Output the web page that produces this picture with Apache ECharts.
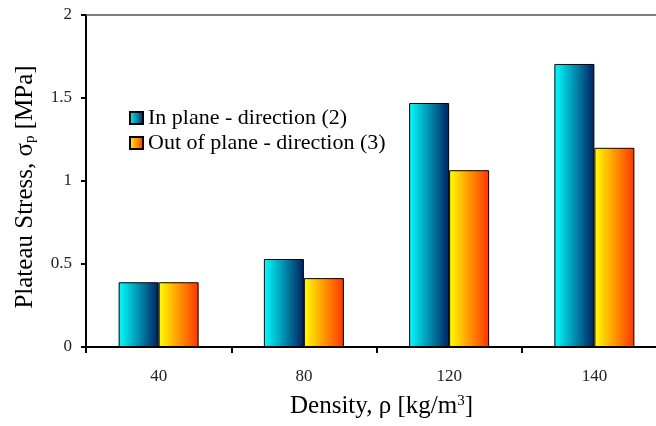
<!DOCTYPE html>
<html>
<head>
<meta charset="utf-8">
<script src="https://cdn.jsdelivr.net/npm/echarts@6/dist/echarts.min.js"></script>
<style>html,body{margin:0;padding:0;background:#fff;overflow:hidden}#c{width:656px;height:426px}</style>
</head>
<body>
<div id="c"></div>
<script>
const categories = ['40', '80', '120', '140'];
const inPlane = [0.39, 0.53, 1.47, 1.705];
const outOfPlane = [0.39, 0.415, 1.065, 1.2];
const yTicks = { min: 0, max: 2, interval: 0.5 };

const FONT = '"Liberation Serif", "Times New Roman", serif';
const chart = echarts.init(document.getElementById('c'));
function grad(a, b) {
  return new echarts.graphic.LinearGradient(0, 0, 1, 0, [
    { offset: 0, color: a }, { offset: 1, color: b }
  ]);
}
chart.setOption({
  animation: false,
  backgroundColor: '#fff',
  grid: { left: 86, width: 581, top: 15, bottom: 79, outerBoundsMode: 'none', containLabel: false },
  legend: {
    orient: 'vertical', left: 129, top: 107, padding: 0,
    itemWidth: 13, itemHeight: 12, itemGap: 3,
    icon: 'rect',
    textStyle: { fontFamily: FONT, fontSize: 22, color: '#000' },
    data: ['In plane - direction (2)', 'Out of plane - direction (3)']
  },
  xAxis: [{
    type: 'category', data: categories,
    axisLine: { lineStyle: { color: '#000', width: 2 } },
    axisTick: { show: true, length: 6, lineStyle: { color: '#000', width: 2 } },
    axisLabel: { fontFamily: FONT, fontSize: 17, color: '#222', margin: 21 },
    name: 'Density, ρ [kg/m{sup|3}]',
    nameLocation: 'middle', nameGap: 47,
    nameTextStyle: { fontFamily: FONT, fontSize: 25, color: '#000', padding: [0, 0, 0, 10],
      rich: { sup: { fontFamily: FONT, fontSize: 15, color: '#000', verticalAlign: 'top', padding: [0,0,10,0] } } }
  }, {
    type: 'category', position: 'top', data: categories,
    axisLine: { show: true, onZero: false, lineStyle: { color: '#555', width: 1.5 } },
    axisTick: { show: false }, axisLabel: { show: false }
  }],
  yAxis: {
    type: 'value', min: yTicks.min, max: yTicks.max, interval: yTicks.interval,
    axisLine: { show: true, lineStyle: { color: '#000', width: 2 } },
    axisTick: { show: true, length: 5, lineStyle: { color: '#000', width: 2 } },
    splitLine: { show: false },
    axisLabel: { fontFamily: FONT, fontSize: 17, color: '#222', margin: 14 },
    name: 'Plateau Stress, σ{sub|p} [MPa]',
    nameLocation: 'middle', nameGap: 48,
    nameTextStyle: { fontFamily: FONT, fontSize: 25, color: '#000', padding: [0, 12, 0, 0],
      rich: { sub: { fontFamily: FONT, fontSize: 15, color: '#000', padding: [10,0,0,0] } } }
  },
  series: [{
    name: 'In plane - direction (2)', type: 'bar', data: inPlane,
    barWidth: 40, barGap: '0%',
    itemStyle: { color: grad('#00ffff', '#002060'), borderColor: '#000', borderWidth: 1 }
  }, {
    name: 'Out of plane - direction (3)', type: 'bar', data: outOfPlane,
    barWidth: 40, barGap: '0%',
    itemStyle: { color: grad('#ffff00', '#ff3300'), borderColor: '#000', borderWidth: 1 }
  }]
});
</script>
</body>
</html>
